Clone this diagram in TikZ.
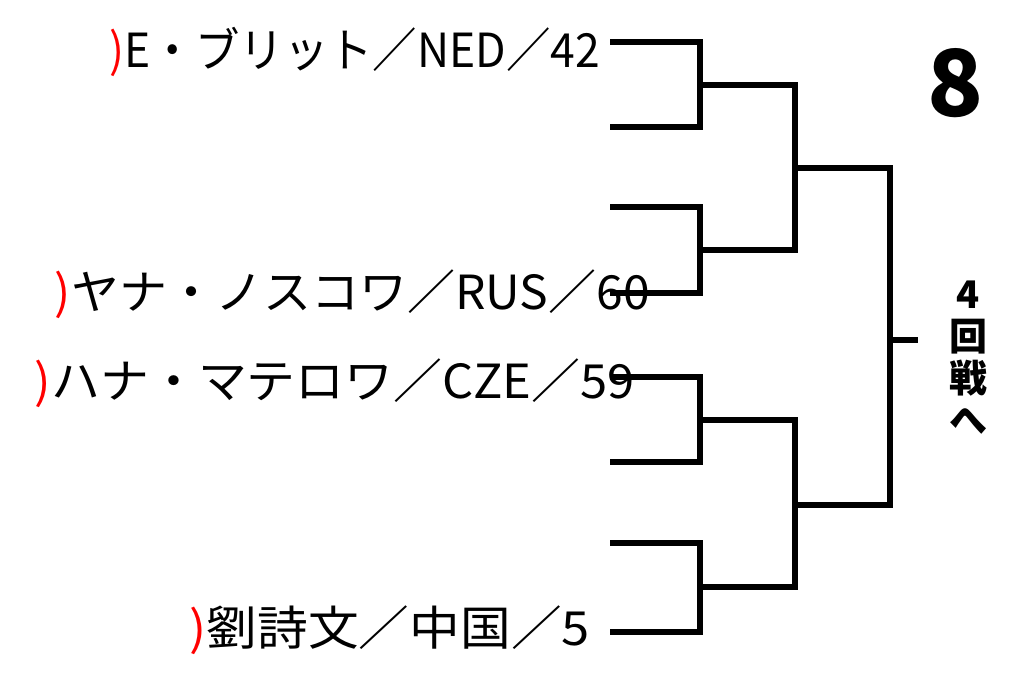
\documentclass[tikz,border=0pt]{standalone}
\usepackage{fontspec}
\newfontfamily\cjk{Noto Sans CJK JP}
\newsavebox\fitbox
\newcommand\fitw[2]{\sbox\fitbox{#2}\scalebox{\fpeval{#1pt/\wd\fitbox}}[1]{\usebox\fitbox}}
\begin{document}
\begin{tikzpicture}[x=1pt,y=-1pt,
 br/.style={line width=5.5pt,black,line join=miter},
 nm/.style={anchor=base east,inner sep=0pt,font=\cjk\fontsize{47}{47}\selectfont}]
\useasboundingbox (0,0) rectangle (1024,677);
\coordinate (a1) at (610,42); \coordinate (a2) at (610,127);
\coordinate (b1) at (610,207); \coordinate (b2) at (610,293);
\coordinate (c1) at (610,377); \coordinate (c2) at (610,462);
\coordinate (d1) at (610,543); \coordinate (d2) at (610,632);
\draw[br] (a1) -| (700,127) -- (a2);
\draw[br] (b1) -| (700,293) -- (b2);
\draw[br] (c1) -| (700,462) -- (c2);
\draw[br] (d1) -| (700,632) -- (d2);
\draw[br] (700,85) -| (795,250) -- (700,250);
\draw[br] (700,420) -| (795,587) -- (700,587);
\draw[br] (795,168) -| (890,505) -- (795,505);
\coordinate (fin) at (918,340);
\draw[br] (890,340) -- (fin);
\node[nm] (n1) at (600,67) {\fitw{490}{\textcolor{red}{)}E・ブリット／NED／42}};
\node[nm] (n2) at (650,309) {\fitw{595}{\textcolor{red}{)}ヤナ・ノスコワ／RUS／60}};
\node[nm] (n3) at (635,398) {\fitw{600}{\textcolor{red}{)}ハナ・マテロワ／CZE／59}};
\node[nm] (n4) at (590,645) {\fitw{400}{\textcolor{red}{)}劉詩文／中国／5}};
\node[font=\cjk\bfseries\fontsize{92}{92}\selectfont,inner sep=0pt] (eight) at (955,83) {8};
\node[font=\cjk\bfseries\fontsize{38}{42}\selectfont,align=center,inner sep=0pt] (next) at (968,358) {4\\回\\戦\\へ};
\end{tikzpicture}
\end{document}
